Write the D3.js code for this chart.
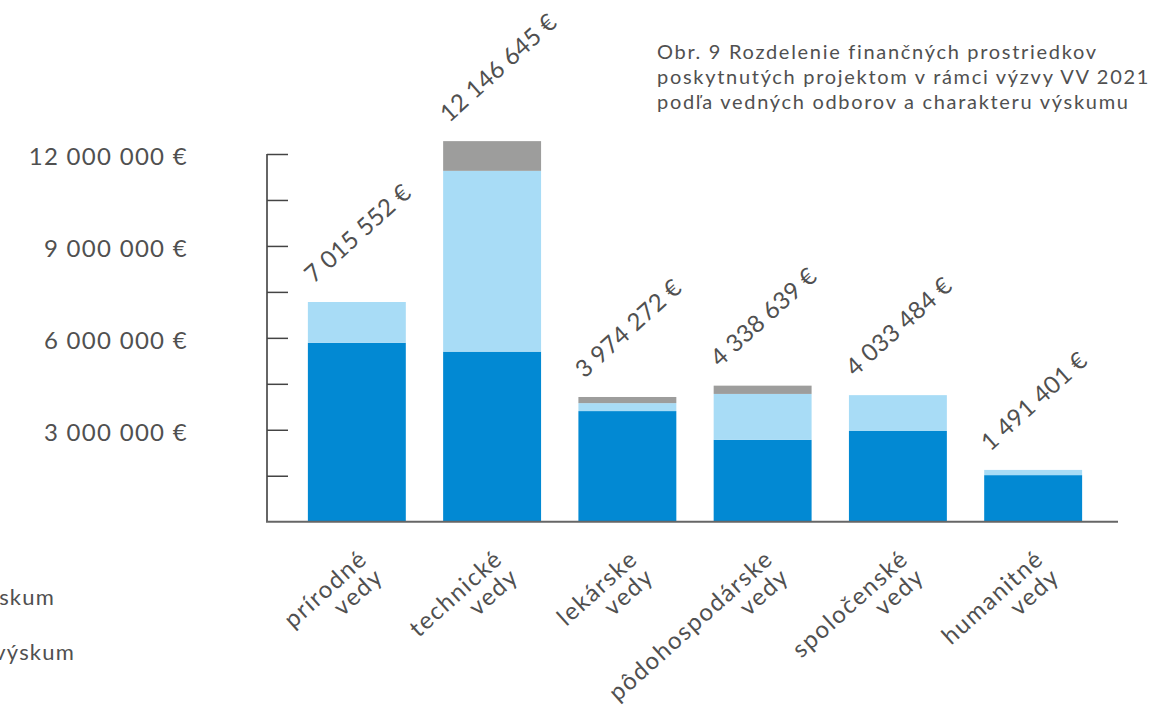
<!DOCTYPE html>
<html>
<head>
<meta charset="utf-8">
<script src="https://cdn.jsdelivr.net/npm/d3@7"></script>
<style>
  body { margin: 0; background: #fff; }
  text { font-family: Lato, "Noto Sans", sans-serif; font-weight: 400; fill: #505050; }
</style>
</head>
<body>
<script>
// categories (two lines each)
const categories = [
  ['prírodné', 'vedy'],
  ['technické', 'vedy'],
  ['lekárske', 'vedy'],
  ['pôdohospodárske', 'vedy'],
  ['spoločenské', 'vedy'],
  ['humanitné', 'vedy']
];
const seriesNames = ['základný výskum', 'aplikovaný výskum', 'experimentálny vývoj'];
// values in €
const basic   = [5840000, 5550000, 3610000, 2670000, 2960000, 1520000];
const applied = [1330000, 5900000,  260000, 1500000, 1170000,  170000];
const devel   = [      0,  970000,  200000,  270000,       0,       0];
const totalLabels = ['7 015 552 €', '12 146 645 €', '3 974 272 €', '4 338 639 €', '4 033 484 €', '1 491 401 €'];
const yTicks = [3000000, 6000000, 9000000, 12000000];
const titleLines = [
  'Obr. 9 Rozdelenie finančných prostriedkov',
  'poskytnutých projektom v rámci výzvy VV 2021',
  'podľa vedných odborov a charakteru výskumu'
];
const colors = ['#0289d3', '#a8dcf6', '#9d9d9c'];

const w = 1160, h = 721;
const svg = d3.select('body').append('svg').attr('width', w).attr('height', h);

const x = d3.scaleBand().domain(d3.range(categories.length))
  .range([270, 1120]).paddingInner(0.276).paddingOuter(0.28);
const y = d3.scaleLinear().domain([0, 12000000]).range([521.7, 154]);

// stack the three series
const rows = categories.map((c, i) => ({ i, s0: basic[i], s1: applied[i], s2: devel[i] }));
const stack = d3.stack().keys(['s0', 's1', 's2'])(rows);

svg.append('g').selectAll('g')
  .data(stack).enter().append('g')
  .attr('fill', (d, k) => colors[k])
  .selectAll('rect')
  .data(d => d).enter().append('rect')
  .attr('x', d => x(d.data.i))
  .attr('width', x.bandwidth())
  .attr('y', d => y(d[1]))
  .attr('height', d => y(d[0]) - y(d[1]));

// axes: inner ticks every 1.5M, labels every 3M
const yAxis = d3.axisRight(y).tickValues(d3.range(1500000, 12000001, 1500000))
  .tickSize(21).tickFormat('');
const gy = svg.append('g').attr('transform', 'translate(267,0)').call(yAxis);
gy.select('.domain').attr('stroke', '#666').attr('stroke-width', 2)
  .attr('d', `M0,${y(12000000)}V${y(0)}`);
gy.selectAll('.tick line').attr('stroke', '#444').attr('stroke-width', 1.5);

svg.append('line').attr('x1', 266).attr('x2', 1118)
  .attr('y1', y(0)).attr('y2', y(0))
  .attr('stroke', '#666').attr('stroke-width', 2);

svg.selectAll('.ylab').data(yTicks).enter().append('text')
  .attr('class', 'ylab')
  .attr('x', 188).attr('y', d => y(d) + 3)
  .attr('dy', '0.35em')
  .attr('text-anchor', 'end')
  .style('font-size', '24px')
  .style('letter-spacing', '1.3px')
  .text(d => d3.format(',')(d).replace(/,/g, ' ') + ' €');

// total labels over bars
const tops = rows.map(r => r.s0 + r.s1 + r.s2);
svg.selectAll('.tot').data(totalLabels).enter().append('text')
  .attr('class', 'tot')
  .attr('transform', (d, i) => `translate(${x(i) + 6},${y(tops[i]) - 18}) rotate(-42)`)
  .style('font-size', '24px')
  .style('letter-spacing', '0.3px')
  .text(d => d);

// category labels
const xl = svg.selectAll('.xlab').data(categories).enter().append('text')
  .attr('class', 'xlab')
  .attr('transform', (d, i) => `translate(${x(i) + x.bandwidth() / 2 + 12},561) rotate(-42)`)
  .attr('text-anchor', 'end')
  .style('font-size', '24px')
  .style('letter-spacing', '1.6px');
xl.selectAll('tspan').data(d => d).enter().append('tspan')
  .attr('x', 0).attr('dy', (d, j) => j ? 24 : 0)
  .text(d => d);

// title
svg.append('text').attr('x', 657).attr('y', 59)
  .style('font-size', '20px')
  .style('letter-spacing', '1.7px')
  .selectAll('tspan').data(titleLines).enter().append('tspan')
  .attr('x', 657).attr('dy', (d, j) => j ? 25 : 0)
  .text(d => d);

// legend (cut at the left edge)
svg.selectAll('.leg').data(seriesNames.slice(0, 2)).enter().append('text')
  .attr('class', 'leg')
  .attr('x', (d, i) => i ? 75 : 55)
  .attr('y', (d, i) => 597 + i * 55)
  .attr('dy', '0.35em')
  .attr('text-anchor', 'end')
  .style('font-size', '22px')
  .style('letter-spacing', '1.2px')
  .text(d => d);
</script>
</body>
</html>
